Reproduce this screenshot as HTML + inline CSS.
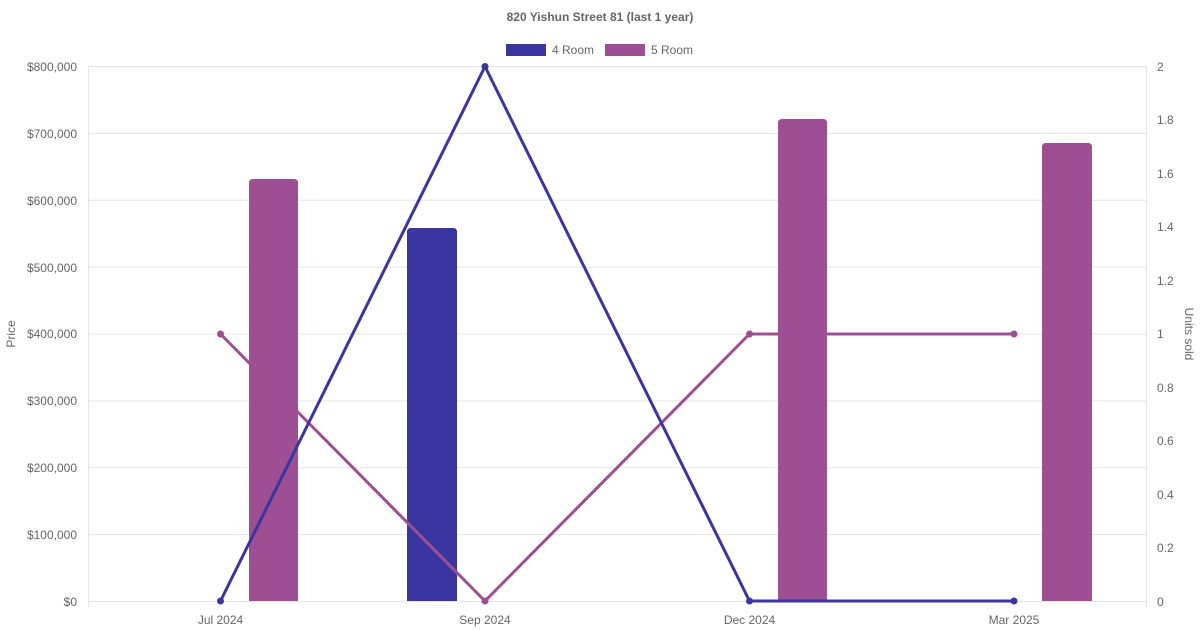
<!DOCTYPE html>
<html><head><meta charset="utf-8"><style>
html,body{margin:0;padding:0;background:#fff;}
svg{display:block;font-family:"Liberation Sans",Arial,sans-serif;}
</style></head><body>
<svg width="1200" height="630" xmlns="http://www.w3.org/2000/svg">
<text x="600" y="21" text-anchor="middle" font-size="12" font-weight="bold" fill="#666">820 Yishun Street 81 (last 1 year)</text>
<rect x="506" y="44" width="40" height="12" fill="#3a35a0"/>
<text x="552" y="54" font-size="12" fill="#666">4 Room</text>
<rect x="605" y="44" width="40" height="12" fill="#9e4f93"/>
<text x="651" y="54" font-size="12" fill="#666">5 Room</text>
<g stroke="#e5e5e5" stroke-width="1">
<line x1="88" y1="66.5" x2="1147" y2="66.5"/>
<line x1="88" y1="133.4" x2="1147" y2="133.4"/>
<line x1="88" y1="200.3" x2="1147" y2="200.3"/>
<line x1="88" y1="267.1" x2="1147" y2="267.1"/>
<line x1="88" y1="334" x2="1147" y2="334"/>
<line x1="88" y1="400.9" x2="1147" y2="400.9"/>
<line x1="88" y1="467.8" x2="1147" y2="467.8"/>
<line x1="88" y1="534.6" x2="1147" y2="534.6"/>
<line x1="88" y1="601.5" x2="1147" y2="601.5"/>
<line x1="88.5" y1="66" x2="88.5" y2="607"/>
<line x1="1146.5" y1="66" x2="1146.5" y2="607"/>
</g>
<g font-size="12" fill="#666" text-anchor="end">
<text x="77" y="71">$800,000</text>
<text x="77" y="138">$700,000</text>
<text x="77" y="205">$600,000</text>
<text x="77" y="272">$500,000</text>
<text x="77" y="338">$400,000</text>
<text x="77" y="405">$300,000</text>
<text x="77" y="472">$200,000</text>
<text x="77" y="539">$100,000</text>
<text x="77" y="606">$0</text>
</g>
<g font-size="12" fill="#666">
<text x="1157" y="71">2</text>
<text x="1157" y="124">1.8</text>
<text x="1157" y="178">1.6</text>
<text x="1157" y="231">1.4</text>
<text x="1157" y="285">1.2</text>
<text x="1157" y="338">1</text>
<text x="1157" y="392">0.8</text>
<text x="1157" y="445">0.6</text>
<text x="1157" y="499">0.4</text>
<text x="1157" y="552">0.2</text>
<text x="1157" y="606">0</text>
</g>
<g font-size="12" fill="#666" text-anchor="middle">
<text x="220.5" y="624">Jul 2024</text>
<text x="485" y="624">Sep 2024</text>
<text x="749.5" y="624">Dec 2024</text>
<text x="1014" y="624">Mar 2025</text>
</g>
<text transform="translate(15,334) rotate(-90)" text-anchor="middle" font-size="12" fill="#666">Price</text>
<text transform="translate(1185,334) rotate(90)" text-anchor="middle" font-size="12" fill="#666">Units sold</text>
<g fill="#9e4f93">
<path d="M249,601 V183 Q249,179 253,179 H294 Q298,179 298,183 V601Z"/>
<path d="M778,601 V123 Q778,119 782,119 H823 Q827,119 827,123 V601Z"/>
<path d="M1042,601 V147 Q1042,143 1046,143 H1088 Q1092,143 1092,147 V601Z"/>
</g>
<path d="M407,601 V232 Q407,228 411,228 H453 Q457,228 457,232 V601Z" fill="#3a35a0"/>
<polyline points="220.5,334 485,601 749.5,334 1014,334" fill="none" stroke="#9e4f93" stroke-width="3"/>
<g fill="#9e4f93"><circle cx="220.5" cy="334" r="3.5"/><circle cx="485" cy="601" r="3.5"/><circle cx="749.5" cy="334" r="3.5"/><circle cx="1014" cy="334" r="3.5"/></g>
<polyline points="220.5,601 485,66.5 749.5,601 1014,601" fill="none" stroke="#3a35a0" stroke-width="3"/>
<g fill="#3a35a0"><circle cx="220.5" cy="601" r="3.5"/><circle cx="485" cy="66.5" r="3.5"/><circle cx="749.5" cy="601" r="3.5"/><circle cx="1014" cy="601" r="3.5"/></g>
</svg>
</body></html>
